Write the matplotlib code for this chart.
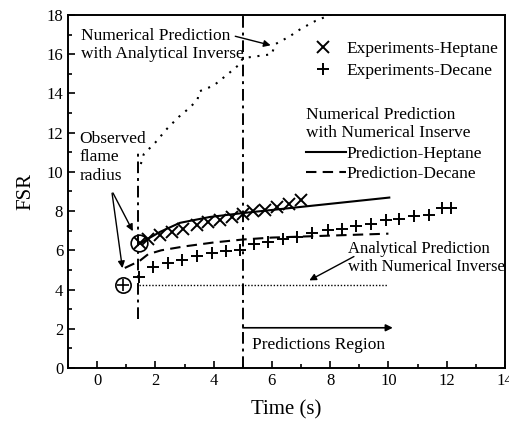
import matplotlib
matplotlib.use("Agg")
import matplotlib.pyplot as plt
from matplotlib.ticker import MultipleLocator

plt.rcParams['font.family'] = ['Liberation Serif', 'DejaVu Serif']
plt.rcParams['mathtext.fontset'] = 'stix'

# Experimental data
hep_t = [1.47, 1.75, 2.16, 2.57, 2.95, 3.42, 3.8, 4.21, 4.62, 5.0, 5.34, 5.75, 6.16, 6.6, 7.0]
hep_fsr = [6.35, 6.6, 6.77, 6.94, 7.1, 7.28, 7.45, 7.53, 7.7, 7.87, 8.0, 8.08, 8.2, 8.38, 8.58]

dec_t = [1.45, 1.93, 2.45, 2.9, 3.42, 3.93, 4.44, 4.9, 5.4, 5.87, 6.37, 6.86, 7.39, 7.92,
         8.42, 8.9, 9.41, 9.9, 10.38, 10.89, 11.4, 11.84, 12.15]
dec_fsr = [4.65, 5.16, 5.36, 5.53, 5.7, 5.84, 5.97, 6.04, 6.3, 6.4, 6.58, 6.7, 6.86, 7.02,
           7.11, 7.23, 7.36, 7.53, 7.62, 7.73, 7.79, 8.17, 8.17]

# Numerical prediction with numerical inverse
pred_hep_t = [1.47, 2.16, 2.84, 3.87, 5.0, 10.03]
pred_hep_fsr = [6.35, 6.94, 7.4, 7.7, 7.9, 8.69]

pred_dec_t = [0.95, 1.45, 1.75, 2.2, 3.0, 4.0, 5.0, 6.0, 7.0, 8.0, 9.0, 10.0]
pred_dec_fsr = [5.1, 5.45, 5.8, 6.0, 6.2, 6.4, 6.55, 6.65, 6.7, 6.75, 6.8, 6.85]

# Numerical prediction with analytical inverse
ana_inv_t = [1.5, 1.6, 2.0, 2.4, 2.8, 3.2, 3.45, 3.5, 4.0, 4.5, 4.9, 5.0, 5.5, 6.0, 6.1,
             6.6, 7.0, 7.5, 8.0, 8.5]
ana_inv_fsr = [10.4, 10.9, 11.5, 12.2, 12.8, 13.3, 13.7, 14.1, 14.4, 15.0, 15.5, 15.8,
               15.9, 16.0, 16.5, 16.9, 17.3, 17.7, 18.0, 18.3]

# Analytical prediction with numerical inverse
ana_t = [1.45, 10.0]
ana_fsr = [4.25, 4.25]

# Observed flame radius
obs_hep = (1.45, 6.35)
obs_dec = (0.9, 4.25)

# Reference vertical lines
t_start = 1.4
t_start_range = (2.5, 11.0)
t_pred = 5.0

fig = plt.figure(figsize=(5.09, 4.22), dpi=100)
ax = fig.add_axes([0.1336, 0.128, 0.8584, 0.8365])

dashdot = (0, (6, 2.5, 1.5, 2.5))
ax.plot([t_start, t_start], t_start_range, color='black', lw=1.4, linestyle=dashdot)
ax.axvline(t_pred, color='black', lw=1.4, linestyle=dashdot)

ax.plot(ana_inv_t, ana_inv_fsr, color='black', lw=1.5, linestyle=(0, (1, 3.2)))
ax.plot(ana_t, ana_fsr, color='black', lw=1.0, linestyle=(0, (1, 1.3)))

l_ph, = ax.plot(pred_hep_t, pred_hep_fsr, color='black', lw=1.5, label='Prediction-Heptane')
l_pd, = ax.plot(pred_dec_t, pred_dec_fsr, color='black', lw=1.5, linestyle=(0, (5, 3)),
                label='Prediction-Decane')

l_eh, = ax.plot(hep_t, hep_fsr, linestyle='none', marker='x', color='black', ms=8, mew=1.4,
                label='Experiments-Heptane')
l_ed, = ax.plot(dec_t, dec_fsr, linestyle='none', marker='+', color='black', ms=9, mew=1.4,
                label='Experiments-Decane')

ax.plot([obs_hep[0]], [obs_hep[1]], marker='o', ms=12, mfc='none', mec='black', mew=1.2,
        linestyle='none')
ax.plot([obs_dec[0]], [obs_dec[1]], marker='o', ms=11, mfc='none', mec='black', mew=1.2,
        linestyle='none')
ax.plot([obs_dec[0]], [obs_dec[1]], marker='+', ms=8, color='black', mew=1.2,
        linestyle='none')

ax.set_xlim(-1, 14)
ax.set_ylim(0, 18)
ax.xaxis.set_major_locator(MultipleLocator(2))
ax.xaxis.set_minor_locator(MultipleLocator(1))
ax.yaxis.set_major_locator(MultipleLocator(2))
ax.yaxis.set_minor_locator(MultipleLocator(1))
ax.tick_params(which='both', direction='in', labelsize=12, width=1.2)
ax.tick_params(which='major', length=5)
ax.tick_params(which='minor', length=3)
for s in ax.spines.values():
    s.set_linewidth(1.4)

ax.set_xlabel('Time (s)', fontsize=15, labelpad=8)
ax.set_ylabel('FSR', fontsize=15, labelpad=8)

fs = 12.5
ax.text(-0.55, 16.45, 'Numerical Prediction\nwith Analytical Inverse', fontsize=fs,
        va='center', ha='left', linespacing=1.15)
ax.annotate('', xy=(6.05, 16.42), xytext=(4.65, 16.95),
            arrowprops=dict(arrowstyle='-|>', color='black', lw=1.0, mutation_scale=10))

ax.text(-0.6, 10.75, 'Observed\nflame\nradius', fontsize=fs, va='center', ha='left',
        linespacing=1.2)
ax.annotate('', xy=(1.27, 6.85), xytext=(0.5, 9.05),
            arrowprops=dict(arrowstyle='-|>', color='black', lw=1.0, mutation_scale=10))
ax.annotate('', xy=(0.88, 4.95), xytext=(0.5, 9.05),
            arrowprops=dict(arrowstyle='-|>', color='black', lw=1.0, mutation_scale=10))

ax.text(8.6, 5.6, 'Analytical Prediction\nwith Numerical Inverse', fontsize=12,
        va='center', ha='left', linespacing=1.2)
ax.annotate('', xy=(7.2, 4.4), xytext=(8.9, 5.75),
            arrowprops=dict(arrowstyle='-|>', color='black', lw=1.0, mutation_scale=10))

ax.annotate('', xy=(10.15, 2.05), xytext=(5.0, 2.05),
            arrowprops=dict(arrowstyle='-|>', color='black', lw=1.2, mutation_scale=10,
                            shrinkA=0, shrinkB=0))
ax.text(5.3, 1.15, 'Predictions Region', fontsize=fs, va='center', ha='left')

leg1 = ax.legend(handles=[l_eh, l_ed], loc='upper left', bbox_to_anchor=(0.545, 0.945),
                 frameon=False, fontsize=fs, handlelength=1.2, handletextpad=0.7,
                 labelspacing=0.3, borderaxespad=0)
ax.add_artist(leg1)
leg2 = ax.legend(handles=[l_ph, l_pd], loc='upper left', bbox_to_anchor=(0.545, 0.74),
                 frameon=False, fontsize=fs, title='Numerical Prediction\nwith Numerical Inserve',
                 title_fontsize=fs, alignment='left', handlelength=2.3, handletextpad=0.05,
                 labelspacing=0.25, borderaxespad=0, borderpad=0)

fig.savefig('out.png', dpi=100)
